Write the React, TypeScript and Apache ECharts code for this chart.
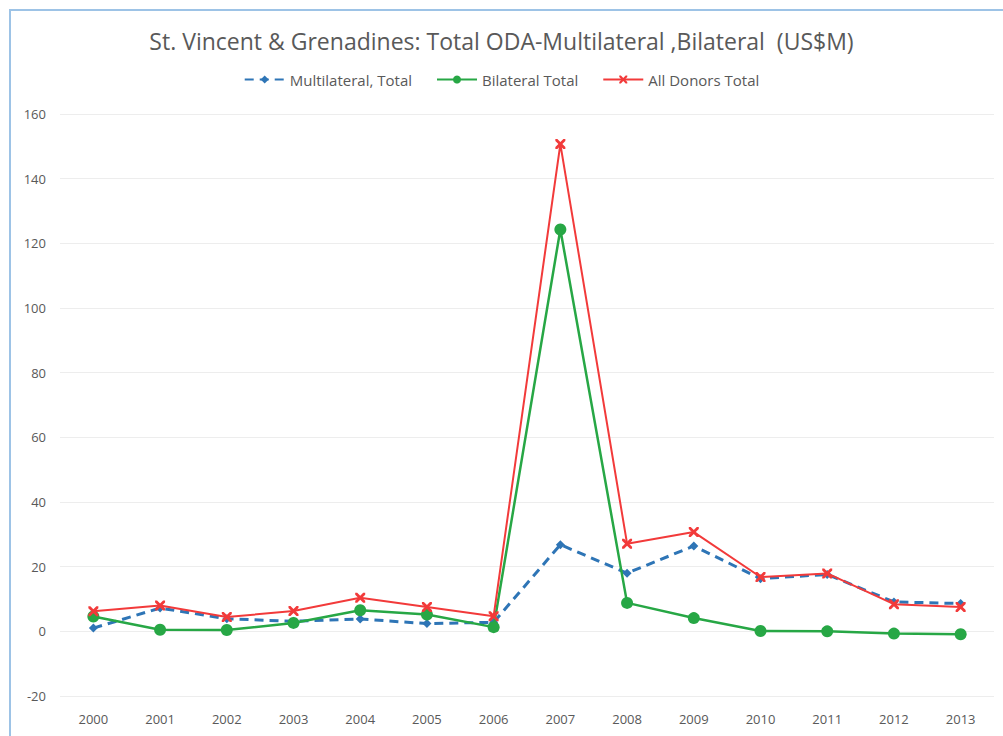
import React, { useEffect, useRef } from "react";
import * as echarts from "echarts";

const years = ["2000","2001","2002","2003","2004","2005","2006","2007","2008","2009","2010","2011","2012","2013"];
const multilateral = [1.0, 7.2, 3.9, 3.1, 3.8, 2.4, 2.8, 26.8, 18.0, 26.4, 16.3, 17.6, 9.1, 8.6];
const bilateral = [4.6, 0.5, 0.4, 2.6, 6.5, 5.2, 1.3, 124.3, 8.8, 4.1, 0.1, 0.0, -0.7, -0.9];
const allDonors = [6.2, 8.0, 4.4, 6.3, 10.4, 7.5, 4.7, 150.7, 27.1, 30.7, 16.8, 17.9, 8.4, 7.5];

const FONT = "'Open Sans', sans-serif";
const X_PATH = "path://M0,0 L2,0 L5,3 L8,0 L10,0 L10,2 L7,5 L10,8 L10,10 L8,10 L5,7 L2,10 L0,10 L0,8 L3,5 L0,2 Z";

export default function App() {
  const ref = useRef<HTMLDivElement>(null);
  useEffect(() => {
    document.body.style.margin = "0";
    const chart = echarts.init(ref.current!, null, { renderer: "svg" });
    chart.setOption({
      animation: false,
      backgroundColor: "#ffffff",
      textStyle: { fontFamily: FONT },
      title: {
        text: "St. Vincent & Grenadines: Total ODA-Multilateral ,Bilateral  (US$M)",
        left: "center",
        top: 24,
        textStyle: { fontSize: 23, fontWeight: "normal", color: "#595959", fontFamily: FONT },
      },
      legend: {
        top: 67,
        left: "center",
        itemWidth: 40,
        itemHeight: 10,
        itemGap: 24,
        textStyle: { fontSize: 15, color: "#595959", fontFamily: FONT },
        data: ["Multilateral, Total", "Bilateral Total", "All Donors Total"],
      },
      graphic: [
        {
          type: "rect",
          shape: { x: 10, y: 10, width: 1010, height: 740 },
          style: { fill: "none", stroke: "#9DC3E6", lineWidth: 2 },
          silent: true,
        },
      ],
      grid: { left: 60, right: 9, top: 114, bottom: 40, containLabel: false },
      xAxis: {
        type: "category",
        data: years,
        boundaryGap: true,
        axisLine: { show: false },
        axisTick: { show: false },
        axisLabel: { color: "#595959", fontSize: 13, margin: 16, fontFamily: FONT },
      },
      yAxis: {
        type: "value",
        min: -20,
        max: 160,
        interval: 20,
        axisLine: { show: false },
        axisTick: { show: false },
        axisLabel: { color: "#595959", fontSize: 13, margin: 14, fontFamily: FONT },
        splitLine: { lineStyle: { color: "#EDEDED", width: 1 } },
      },
      series: [
        {
          name: "Multilateral, Total",
          type: "line",
          data: multilateral,
          symbol: "diamond",
          symbolSize: 9,
          itemStyle: { color: "#2E75B6" },
          lineStyle: { color: "#2E75B6", width: 3, type: [9, 6] },
          z: 2,
        },
        {
          name: "Bilateral Total",
          type: "line",
          data: bilateral,
          symbol: "circle",
          symbolSize: 12,
          itemStyle: { color: "#27A745" },
          lineStyle: { color: "#27A745", width: 2.5 },
          z: 3,
        },
        {
          name: "All Donors Total",
          type: "line",
          data: allDonors,
          symbol: X_PATH,
          symbolSize: 10,
          itemStyle: { color: "#F23A3A" },
          lineStyle: { color: "#F23A3A", width: 2 },
          z: 4,
        },
      ],
    });
    return () => chart.dispose();
  }, []);
  return <div ref={ref} style={{ width: 1003, height: 736 }} />;
}
